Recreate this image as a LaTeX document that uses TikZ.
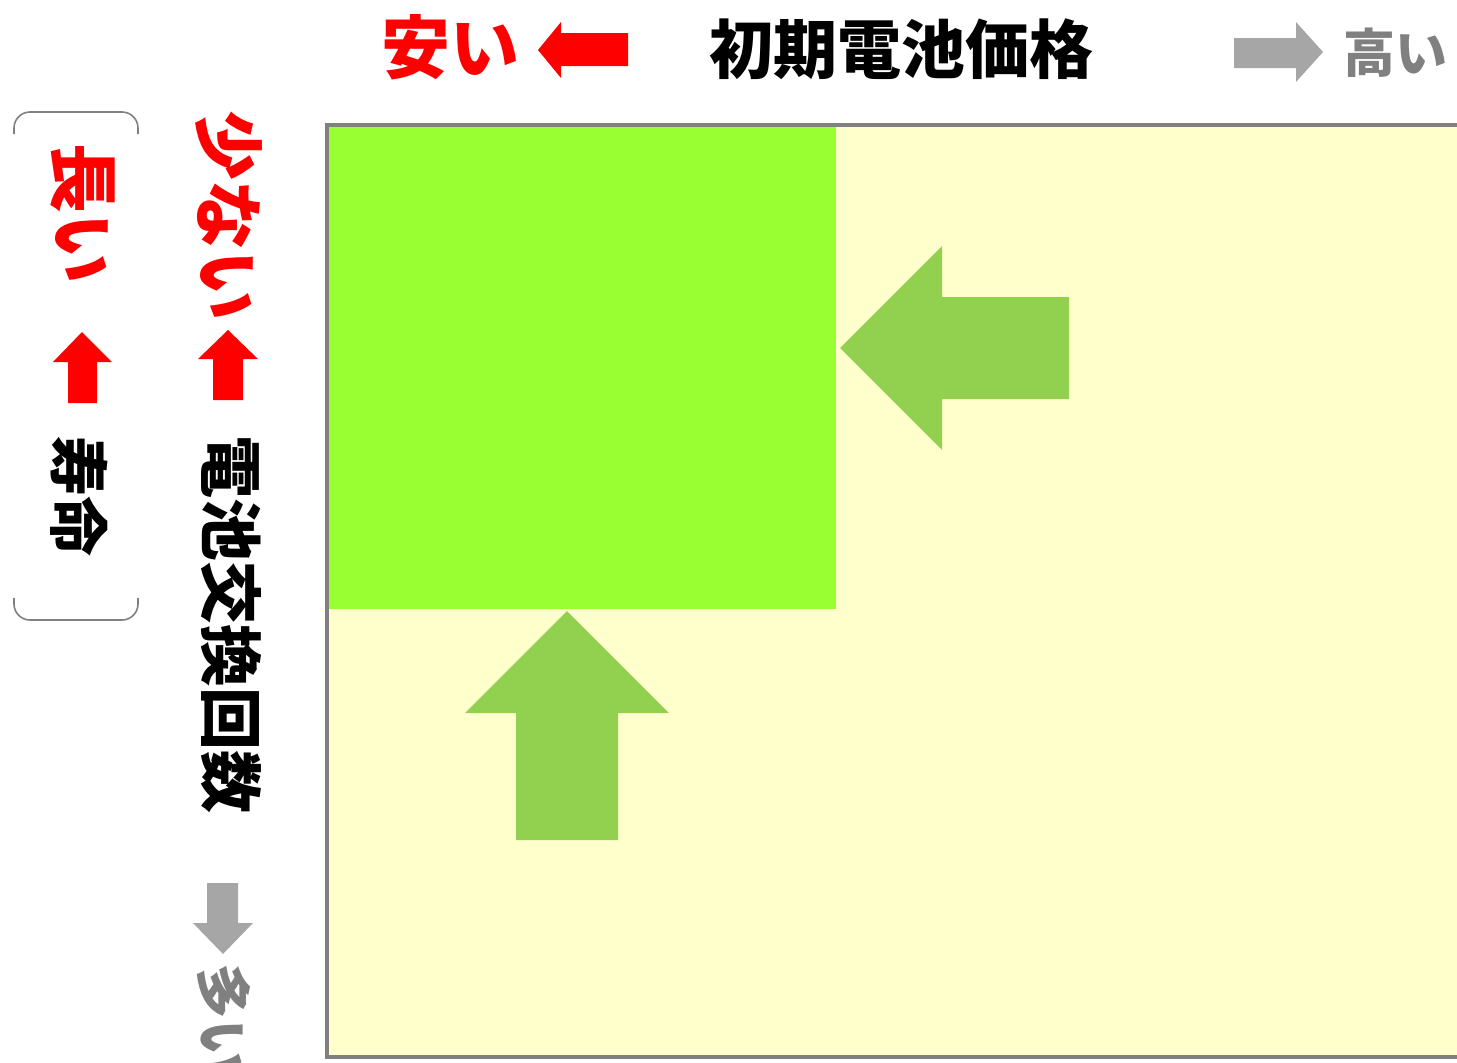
\documentclass[tikz,border=0pt]{standalone}
\usepackage{fontspec}
\setmainfont{Noto Sans CJK JP}
\definecolor{hiRed}{HTML}{FF0000}
\definecolor{hiGray}{HTML}{A6A6A6}
\definecolor{txGray}{HTML}{808080}
\definecolor{frameGray}{HTML}{808080}
\definecolor{paleYel}{HTML}{FFFFCC}
\definecolor{limeGrn}{HTML}{99FF33}
\definecolor{arrGrn}{HTML}{92D050}
\tikzset{
  lbl/.style={inner sep=0pt,font=\bfseries},
  vlbl/.style={inner sep=0pt,rotate=-90,anchor=west,font=\bfseries},
  brace/.style={draw=frameGray,line width=1.6pt,rounded corners=16pt}
}
\begin{document}
\begin{tikzpicture}[x=1pt,y=-1pt]
  \useasboundingbox (0,0) rectangle (1457,1063);
  % chart area
  \fill[paleYel] (328,127) rectangle (1470,1057);
  \fill[limeGrn] (329,127) rectangle (836,609);
  \draw[frameGray,line width=4pt] (1470,125) -- (327,125) -- (327,1057) -- (1470,1057);
  % green arrows
  \fill[arrGrn] (840,348) -- (942,246) -- (942,297) -- (1069,297) -- (1069,399) -- (942,399) -- (942,450) -- cycle;
  \fill[arrGrn] (567,611) -- (669,713) -- (618,713) -- (618,840) -- (516,840) -- (516,713) -- (465,713) -- cycle;
  % top axis
  \node[lbl,anchor=west,text=hiRed] (cheap) at (381,47) {\fontsize{69}{69}\selectfont 安い};
  \fill[hiRed] (538,50) -- (561,22) -- (561,33) -- (628,33) -- (628,66) -- (561,66) -- (561,78) -- cycle;
  \node[lbl,text=black] (price) at (901,49) {\fontsize{64}{64}\selectfont 初期電池価格};
  \fill[hiGray] (1323,52) -- (1296,22) -- (1296,38) -- (1234,38) -- (1234,68) -- (1296,68) -- (1296,82) -- cycle;
  \node[lbl,anchor=west,text=txGray] (dear) at (1343,53) {\fontsize{52}{52}\selectfont 高い};
  % left axis: replacements
  \node[vlbl,text=hiRed] (few) at (229,110) {\fontsize{70}{70}\selectfont 少ない};
  \fill[hiRed] (228,330) -- (258,359) -- (243,359) -- (243,400) -- (213,400) -- (213,359) -- (198,359) -- cycle;
  \node[vlbl,text=black] (swaps) at (231,435) {\fontsize{63}{63}\selectfont 電池交換回数};
  \fill[hiGray] (223,954) -- (253,923) -- (238,923) -- (238,883) -- (207,883) -- (207,923) -- (193,923) -- cycle;
  \node[vlbl,text=txGray] (many) at (224,963) {\fontsize{56}{56}\selectfont 多い};
  % left axis: lifetime
  \draw[brace] (14,134) -- (14,112) -- (138,112) -- (138,134);
  \draw[brace] (14,598) -- (14,620) -- (138,620) -- (138,598);
  \node[vlbl,text=hiRed] (long) at (83,143) {\fontsize{70}{70}\selectfont 長い};
  \fill[hiRed] (82,332) -- (112,362) -- (97,362) -- (97,403) -- (68,403) -- (68,362) -- (53,362) -- cycle;
  \node[vlbl,text=black] (life) at (79,436) {\fontsize{60}{60}\selectfont 寿命};
\end{tikzpicture}
\end{document}
